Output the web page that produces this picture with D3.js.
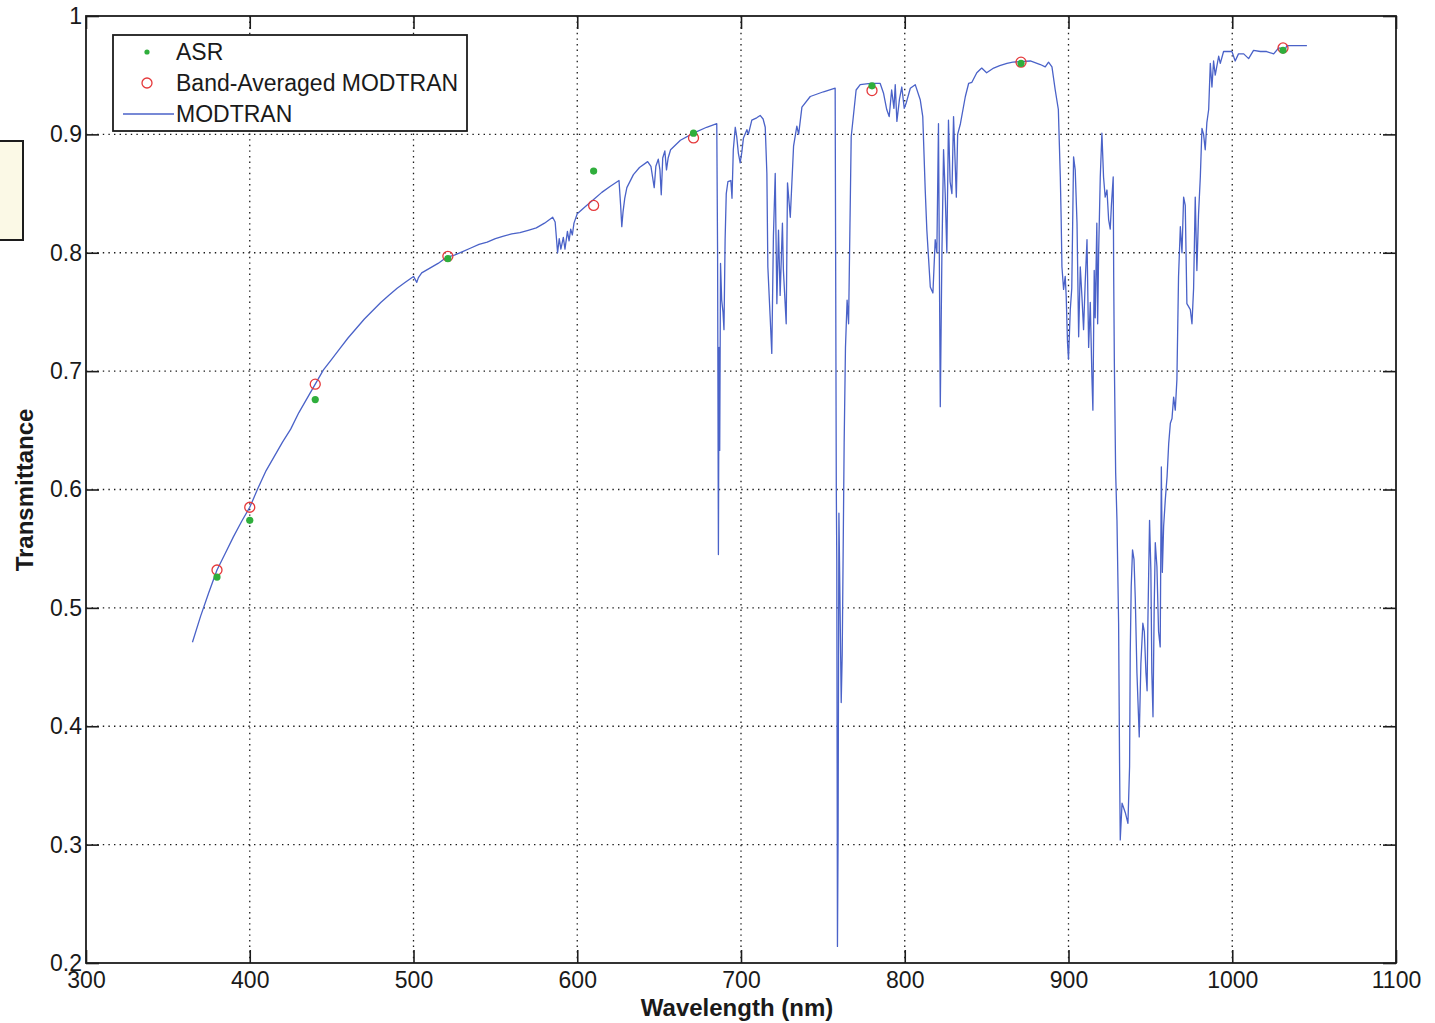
<!DOCTYPE html>
<html>
<head>
<meta charset="utf-8">
<script src="https://cdn.jsdelivr.net/npm/d3@7"></script>
<style>
  html, body { margin: 0; padding: 0; background: #ffffff; }
  svg { display: block; }
  text { font-family: "Liberation Sans", Arial, Helvetica, sans-serif; fill: #1a1a1a; }
</style>
</head>
<body>
<svg id="chart" width="1435" height="1023"></svg>
<script>
// MODTRAN atmospheric transmittance spectrum (wavelength in nm, transmittance)
const modtranWavelength = [
  365, 370, 375, 380, 385, 390, 395, 400, 405, 410, 415, 420, 425, 430, 435, 440,
  445, 450, 455, 460, 465, 470, 475, 480, 485, 490, 495, 500, 502, 503, 505, 510,
  515, 520, 525, 530, 535, 540, 545, 550, 555, 560, 565, 570, 575, 580, 585, 586.5,
  588, 589, 590, 591.5, 592.5, 594, 595, 596, 597, 598, 600, 605, 610, 615, 620,
  625.5, 626.5, 627.2, 628, 629, 630.3, 634.3, 638, 643, 645, 647, 648, 649.5, 650.5,
  651.3, 652.2, 653.5, 654.5, 655.5, 657, 663, 671, 679, 685.2, 685.7, 686.2, 686.6,
  687.0, 687.5, 688.2, 689, 689.6, 690.3, 691, 692, 693.8, 694.5, 695.3, 696.5, 697.4,
  698.4, 699.5, 700.5, 701.5, 703.6, 704.5, 706.6, 709.6, 711.7, 713.5, 714.8, 715.8,
  716.4, 717.8, 718.8, 719.8, 720.9, 721.9, 722.9, 723.9, 725.3, 725.9, 727.6, 728.4,
  730.1, 732.1, 734.1, 735.2, 737.2, 742.3, 750.4, 757.5, 758.2, 758.5, 758.9, 759.3,
  759.8, 760.5, 761.2, 761.8, 762.4, 763.0, 763.8, 764.8, 765.7, 766.3, 767.3, 770.3,
  772.8, 779, 785, 787, 789, 790.5, 792, 793.4, 794.2, 795.2, 796.8, 798.2, 799.7,
  801, 803.4, 806.4, 809.5, 811, 812.5, 813.5, 815.6, 817.2, 818.6, 819.6, 820.6,
  821.7, 822.7, 823.7, 824.7, 825.7, 826.7, 827.7, 828.8, 829.8, 831.5, 832.3, 834,
  837, 839, 841, 844, 847, 850, 854.3, 858, 862.4, 866, 870.5, 876.7, 882.8, 885.8,
  887.8, 889.9, 891.9, 893.8, 895, 895.5, 896, 897, 898, 898.6, 899.4, 900, 901.1,
  902, 903.1, 904.1, 905.2, 906.2, 907.2, 908.2, 909.2, 910.2, 911.3, 912.3, 913.3,
  914.3, 914.9, 915.7, 916.3, 917.3, 917.8, 918.4, 919.4, 920.4, 921.4, 922.4, 923.5,
  924.5, 925.5, 926.2, 927.3, 927.6, 928, 928.8, 929.6, 930.6, 931.2, 931.6, 932.7,
  934.7, 936.3, 937.3, 937.7, 938.3, 939.1, 940, 940.8, 941.8, 943.2, 944.2, 945.4,
  946.3, 947.3, 948, 948.5, 949.5, 950.3, 950.9, 951.6, 952.3, 953, 954, 955, 956,
  956.7, 957.3, 958.1, 959.1, 960.2, 961.2, 962.2, 963.2, 964.2, 965.2, 966.2, 967.2,
  968.3, 969.3, 970.3, 971.3, 972.3, 974.4, 975.4, 976.4, 977.4, 978.4, 979.4, 980.5,
  981.5, 982.5, 983.5, 984.5, 985.6, 986.6, 987.6, 988.6, 989.6, 991.7, 992.7, 994.7,
  999.8, 1001.8, 1003.8, 1007, 1010, 1013, 1017.2, 1021, 1025.3, 1028.3, 1032.4,
  1033.4, 1045.6
];
const modtranTransmittance = [
  0.471, 0.493, 0.513, 0.532, 0.546, 0.560, 0.573, 0.585, 0.601, 0.616, 0.628, 0.640, 0.651, 0.665, 0.677, 0.689,
  0.701, 0.710, 0.719, 0.728, 0.736, 0.744, 0.751, 0.758, 0.764, 0.770, 0.775, 0.780, 0.775, 0.779, 0.783, 0.787,
  0.791, 0.796, 0.798, 0.801, 0.804, 0.807, 0.809, 0.812, 0.814, 0.816, 0.817, 0.819, 0.821, 0.825, 0.830, 0.826,
  0.800, 0.812, 0.803, 0.813, 0.803, 0.818, 0.810, 0.820, 0.815, 0.825, 0.833, 0.839, 0.845, 0.851, 0.856,
  0.861, 0.840, 0.822, 0.835, 0.846, 0.855, 0.866, 0.872, 0.877, 0.873, 0.855, 0.873, 0.879, 0.870,
  0.849, 0.880, 0.886, 0.870, 0.880, 0.887, 0.895, 0.901, 0.906, 0.909, 0.800, 0.545, 0.720,
  0.633, 0.791, 0.760, 0.750, 0.735, 0.811, 0.850, 0.860, 0.861, 0.846, 0.887, 0.906, 0.898,
  0.884, 0.876, 0.885, 0.897, 0.904, 0.900, 0.912, 0.914, 0.916, 0.913, 0.906, 0.867,
  0.788, 0.746, 0.715, 0.814, 0.867, 0.757, 0.819, 0.764, 0.825, 0.785, 0.740, 0.859,
  0.830, 0.890, 0.907, 0.900, 0.923, 0.932, 0.936, 0.939, 0.600, 0.540, 0.214, 0.310,
  0.580, 0.500, 0.420, 0.460, 0.550, 0.640, 0.720, 0.760, 0.740, 0.800, 0.898, 0.9375,
  0.942, 0.943, 0.943, 0.935, 0.921, 0.915, 0.9375, 0.922, 0.942, 0.911, 0.930, 0.940, 0.922,
  0.927, 0.939, 0.942, 0.929, 0.915, 0.853, 0.819, 0.771, 0.766, 0.811, 0.800, 0.909,
  0.670, 0.800, 0.887, 0.850, 0.800, 0.912, 0.860, 0.850, 0.915, 0.847, 0.900, 0.909,
  0.932, 0.943, 0.944, 0.952, 0.956, 0.952, 0.956, 0.958, 0.960, 0.961, 0.9615, 0.962, 0.959, 0.957,
  0.961, 0.957, 0.9375, 0.921, 0.864, 0.830, 0.788, 0.769, 0.780, 0.763, 0.724, 0.710, 0.752,
  0.770, 0.881, 0.870, 0.825, 0.729, 0.788, 0.763, 0.735, 0.775, 0.811, 0.720, 0.758,
  0.695, 0.667, 0.785, 0.745, 0.825, 0.740, 0.800, 0.864, 0.901, 0.864, 0.847, 0.853,
  0.828, 0.820, 0.840, 0.864, 0.780, 0.707, 0.614, 0.574, 0.487, 0.366, 0.304, 0.335,
  0.327, 0.318, 0.366, 0.462, 0.518, 0.549, 0.541, 0.507, 0.445, 0.391, 0.453, 0.487,
  0.480, 0.445, 0.430, 0.490, 0.574, 0.532, 0.445, 0.408, 0.497, 0.555, 0.535, 0.480, 0.467,
  0.619, 0.530, 0.569, 0.591, 0.611, 0.639, 0.656, 0.660, 0.678, 0.667, 0.693, 0.780,
  0.822, 0.800, 0.847, 0.840, 0.757, 0.752, 0.740, 0.770, 0.847, 0.785, 0.832, 0.864,
  0.905, 0.900, 0.887, 0.910, 0.921, 0.960, 0.940, 0.962, 0.950, 0.966, 0.960, 0.970,
  0.970, 0.962, 0.968, 0.968, 0.964, 0.971, 0.970, 0.970, 0.968, 0.973, 0.972,
  0.975, 0.975
];

// Instrument band centres with measured (ASR) and band-averaged MODTRAN values
const bandWavelength = [380, 400, 440, 521, 610, 671, 780, 871, 1031];
const asrTransmittance = [0.526, 0.574, 0.676, 0.795, 0.869, 0.901, 0.941, 0.960, 0.971];
const bandAvgTransmittance = [0.532, 0.585, 0.689, 0.797, 0.840, 0.897, 0.937, 0.961, 0.973];

// Axis ticks
const xTicks = [300, 400, 500, 600, 700, 800, 900, 1000, 1100];
const yTicks = [0.2, 0.3, 0.4, 0.5, 0.6, 0.7, 0.8, 0.9, 1];
const yTickLabels = ["0.2", "0.3", "0.4", "0.5", "0.6", "0.7", "0.8", "0.9", "1"];

const legendLabels = ["ASR", "Band-Averaged MODTRAN", "MODTRAN"];

const svg = d3.select("#chart");
const plot = { left: 86, right: 1396, top: 16, bottom: 963 };

const x = d3.scaleLinear().domain([300, 1100]).range([plot.left, plot.right]);
const y = d3.scaleLinear().domain([0.2, 1]).range([plot.bottom, plot.top]);

const lineColor = "#4a62c8";
const asrColor = "#2fae3c";
const bandColor = "#e5393b";
const axisColor = "#1c1c1c";

// Small annotation box peeking in from the left edge
svg.append("rect")
  .attr("x", -4).attr("y", 141).attr("width", 27).attr("height", 99)
  .attr("fill", "#fbf9e6").attr("stroke", axisColor).attr("stroke-width", 2);

// Dotted grid
const grid = svg.append("g");
grid.selectAll("line.gx")
  .data(xTicks.slice(1, -1))
  .join("line")
  .attr("x1", d => x(d)).attr("x2", d => x(d))
  .attr("y1", plot.top).attr("y2", plot.bottom)
  .attr("stroke", "#1a1a1a").attr("stroke-width", 1.3)
  .attr("stroke-dasharray", "1.4,4.2");
grid.selectAll("line.gy")
  .data(yTicks.slice(1, -1))
  .join("line")
  .attr("x1", plot.left).attr("x2", plot.right)
  .attr("y1", d => y(d)).attr("y2", d => y(d))
  .attr("stroke", "#1a1a1a").attr("stroke-width", 1.3)
  .attr("stroke-dasharray", "1.4,4.2");

// MODTRAN spectrum
const spectrum = modtranWavelength.map((w, i) => [w, modtranTransmittance[i]]);
svg.append("path")
  .datum(spectrum)
  .attr("fill", "none")
  .attr("stroke", lineColor)
  .attr("stroke-width", 1.3)
  .attr("stroke-linejoin", "round")
  .attr("d", d3.line().x(d => x(d[0])).y(d => y(d[1])));

// Band-averaged MODTRAN (open red circles)
svg.append("g").selectAll("circle")
  .data(bandWavelength.map((w, i) => [w, bandAvgTransmittance[i]]))
  .join("circle")
  .attr("cx", d => x(d[0])).attr("cy", d => y(d[1]))
  .attr("r", 5)
  .attr("fill", "none").attr("stroke", bandColor).attr("stroke-width", 1.3);

// ASR (green dots)
svg.append("g").selectAll("circle")
  .data(bandWavelength.map((w, i) => [w, asrTransmittance[i]]))
  .join("circle")
  .attr("cx", d => x(d[0])).attr("cy", d => y(d[1]))
  .attr("r", 3.6)
  .attr("fill", asrColor);

// Axes with inward ticks on all four sides
const tickLen = 13;
const axisBottom = d3.axisBottom(x).tickValues(xTicks).tickSize(-tickLen).tickPadding(9).tickFormat(d3.format("d"));
const axisTop = d3.axisTop(x).tickValues(xTicks).tickSize(-tickLen).tickFormat("");
const axisLeft = d3.axisLeft(y).tickValues(yTicks).tickSize(-tickLen).tickPadding(4)
  .tickFormat((d, i) => yTickLabels[i]);
const axisRight = d3.axisRight(y).tickValues(yTicks).tickSize(-tickLen).tickFormat("");

function styleAxis(g) {
  g.select(".domain").remove();
  g.selectAll(".tick line").attr("stroke", axisColor).attr("stroke-width", 1.6);
  g.selectAll(".tick text")
    .attr("fill", "#1a1a1a")
    .style("font-family", "'Liberation Sans', Arial, sans-serif")
    .style("font-size", "23px");
}

svg.append("g").attr("transform", `translate(0,${plot.bottom})`).call(axisBottom).call(styleAxis);
svg.append("g").attr("transform", `translate(0,${plot.top})`).call(axisTop).call(styleAxis);
svg.append("g").attr("transform", `translate(${plot.left},0)`).call(axisLeft).call(styleAxis);
svg.append("g").attr("transform", `translate(${plot.right},0)`).call(axisRight).call(styleAxis);

// Plot frame
svg.append("rect")
  .attr("x", plot.left).attr("y", plot.top)
  .attr("width", plot.right - plot.left).attr("height", plot.bottom - plot.top)
  .attr("fill", "none").attr("stroke", axisColor).attr("stroke-width", 1.8);

// Axis titles
svg.append("text")
  .attr("x", 737).attr("y", 1016)
  .attr("text-anchor", "middle")
  .style("font-size", "24px").style("font-weight", "bold")
  .text("Wavelength (nm)");
svg.append("text")
  .attr("transform", `translate(33,490) rotate(-90)`)
  .attr("text-anchor", "middle")
  .style("font-size", "24px").style("font-weight", "bold")
  .text("Transmittance");

// Legend
const legend = svg.append("g");
legend.append("rect")
  .attr("x", 113).attr("y", 35).attr("width", 354).attr("height", 96)
  .attr("fill", "#fff").attr("stroke", axisColor).attr("stroke-width", 1.8);
const rowY = [52, 83, 114];
legend.append("circle").attr("cx", 147).attr("cy", rowY[0]).attr("r", 2.6).attr("fill", asrColor);
legend.append("circle").attr("cx", 147).attr("cy", rowY[1]).attr("r", 5)
  .attr("fill", "none").attr("stroke", bandColor).attr("stroke-width", 1.3);
legend.append("line").attr("x1", 123).attr("x2", 174).attr("y1", rowY[2]).attr("y2", rowY[2])
  .attr("stroke", lineColor).attr("stroke-width", 1.3);
legend.selectAll("text.lbl")
  .data(legendLabels)
  .join("text")
  .attr("x", 176).attr("y", (d, i) => rowY[i] + 8)
  .style("font-size", "23px")
  .text(d => d);
</script>
</body>
</html>
